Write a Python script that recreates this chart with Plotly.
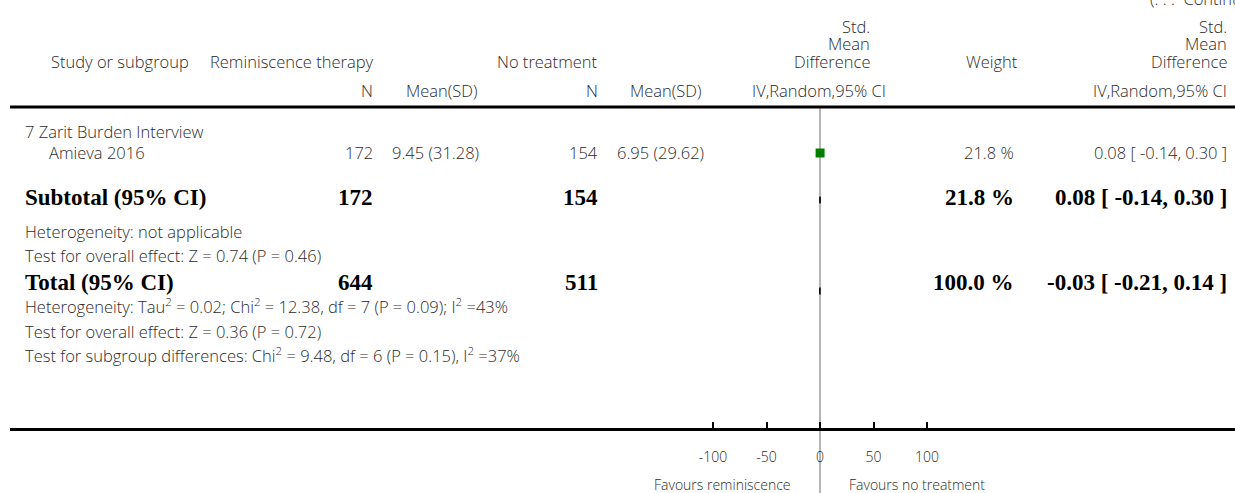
import plotly.graph_objects as go

W, H = 1235, 493

# ---------------- data ----------------
subgroup_label = "7 Zarit Burden Interview"
studies = ["Amieva 2016"]
rt_n = [172]
rt_mean = [9.45]
rt_sd = [31.28]
nt_n = [154]
nt_mean = [6.95]
nt_sd = [29.62]
smd = [0.08]
smd_lo = [-0.14]
smd_hi = [0.30]
weights = [21.8]

sub_rt_n, sub_nt_n = 172, 154
sub_weight = 21.8
sub_smd, sub_lo, sub_hi = 0.08, -0.14, 0.30

tot_rt_n, tot_nt_n = 644, 511
tot_weight = 100.0
tot_smd, tot_lo, tot_hi = -0.03, -0.21, 0.14

tick_vals = [-100, -50, 0, 50, 100]
tick_text = ["-100", "-50", "0", "50", "100"]

# ---------------- styles ----------------
SANS = "Open Sans"
SERIF = "Liberation Serif"
TXT = "#2b2b2b"
fs = 16.5
fsb = 23

def px(x):
    return x / W

def py(y):
    return 1 - y / H

annotations = []

def ann(x, y, text, anchor="left", size=fs, family=SANS, color=TXT, weight=300):
    annotations.append(dict(
        x=px(x), y=py(y), xref="paper", yref="paper", text=text,
        showarrow=False, xanchor=anchor, yanchor="middle",
        font=dict(family=family, size=size, color=color, weight=weight),
    ))

def bann(x, y, text, anchor="left"):
    ann(x, y, text, anchor, size=fsb, family=SERIF, color="#000", weight="bold")

# column positions (pixels)
X_LEFT = 23
X_INDENT = 47
X_N1 = 375
X_M1_HEAD = 404
X_M1 = 390
X_N2 = 600
X_M2_HEAD = 628
X_M2 = 615
X_SMD_HEAD = 872
X_CI_HEAD = 888
X_W = 1016
X_RIGHT = 1229

# header
ann(1148, -1, "(. . .  Continued)", "left")
for yy, t in [(26, "Std."), (44, "Mean"), (62, "Difference")]:
    ann(X_SMD_HEAD, yy, t, "right")
    ann(X_RIGHT, yy, t, "right")
ann(49, 62, "Study or subgroup")
ann(X_N1, 62, "Reminiscence therapy", "right")
ann(X_N2, 62, "No treatment", "right")
ann(992, 62, "Weight", "center")
ann(X_N1, 91, "N", "right")
ann(X_M1_HEAD, 91, "Mean(SD)")
ann(X_N2, 91, "N", "right")
ann(X_M2_HEAD, 91, "Mean(SD)")
ann(X_CI_HEAD, 91, "IV,Random,95% CI", "right")
ann(X_RIGHT, 91, "IV,Random,95% CI", "right")

# subgroup + studies
ann(X_LEFT, 131, subgroup_label)
row_y = [153]
for i, s in enumerate(studies):
    y = row_y[i]
    ann(X_INDENT, y, s)
    ann(X_N1, y, f"{rt_n[i]}", "right")
    ann(X_M1, y, f"{rt_mean[i]:.2f} ({rt_sd[i]:.2f})")
    ann(X_N2, y, f"{nt_n[i]}", "right")
    ann(X_M2, y, f"{nt_mean[i]:.2f} ({nt_sd[i]:.2f})")
    ann(X_W, y, f"{weights[i]:.1f} %", "right")
    ann(X_RIGHT, y, f"{smd[i]:.2f} [ {smd_lo[i]:.2f}, {smd_hi[i]:.2f} ]", "right")

# subtotal
sub_y = 198
bann(X_LEFT, sub_y, "Subtotal (95% CI)")
bann(X_N1, sub_y, f"{sub_rt_n}", "right")
bann(X_N2, sub_y, f"{sub_nt_n}", "right")
bann(X_W, sub_y, f"{sub_weight:.1f} %", "right")
bann(X_RIGHT, sub_y, f"{sub_smd:.2f} [ {sub_lo:.2f}, {sub_hi:.2f} ]", "right")
ann(X_LEFT, 231, "Heterogeneity: not applicable")
ann(X_LEFT, 255, "Test for overall effect: Z = 0.74 (P = 0.46)")

# total
tot_y = 282
bann(X_LEFT, tot_y, "Total (95% CI)")
bann(X_N1, tot_y, f"{tot_rt_n}", "right")
bann(X_N2, tot_y, f"{tot_nt_n}", "right")
bann(X_W, tot_y, f"{tot_weight:.1f} %", "right")
bann(X_RIGHT, tot_y, f"{tot_smd:.2f} [ {tot_lo:.2f}, {tot_hi:.2f} ]", "right")
ann(X_LEFT, 306, "Heterogeneity: Tau<sup>2</sup> = 0.02; Chi<sup>2</sup> = 12.38, df = 7 (P = 0.09); I<sup>2</sup> =43%")
ann(X_LEFT, 331, "Test for overall effect: Z = 0.36 (P = 0.72)")
ann(X_LEFT, 355, "Test for subgroup differences: Chi<sup>2</sup> = 9.48, df = 6 (P = 0.15), I<sup>2</sup> =37%")

# favours labels
ann(793, 484, "Favours reminiscence", "right", size=14)
ann(847, 484, "Favours no treatment", "left", size=14)

# ---------------- axes geometry ----------------
x0_px, x_zero_px, px_per_unit = 10, 820, 1.07
xr = [(x0_px - x_zero_px) / px_per_unit, (W - x_zero_px) / px_per_unit]
top_px, bot_px = 107, 428

fig = go.Figure()

# study squares and CI lines
fig.add_trace(go.Scatter(x=smd, y=row_y, mode="markers",
                         marker=dict(symbol="square", size=9, color="#008000",
                                     line=dict(width=0)),
                         hoverinfo="skip", showlegend=False))
for i in range(len(studies)):
    fig.add_trace(go.Scatter(x=[smd_lo[i], smd_hi[i]], y=[row_y[i], row_y[i]],
                             mode="lines", line=dict(color="#000", width=1),
                             hoverinfo="skip", showlegend=False))

# pooled diamonds
def diamond(est, lo, hi, yc, h=3.5):
    fig.add_trace(go.Scatter(x=[lo, est, hi, est, lo], y=[yc, yc - h, yc, yc + h, yc],
                             mode="lines", fill="toself", fillcolor="#000",
                             line=dict(color="#000", width=1.5),
                             hoverinfo="skip", showlegend=False))

diamond(sub_smd, sub_lo, sub_hi, 200)
diamond(tot_smd, tot_lo, tot_hi, 291)

shapes = [
    dict(type="line", xref="x", yref="paper", x0=0, x1=0, y0=0, y1=py(top_px),
         line=dict(color="#b5b5b5", width=2), layer="below"),
    dict(type="line", xref="paper", yref="paper", x0=px(x0_px), x1=1,
         y0=py(top_px), y1=py(top_px), line=dict(color="#000", width=3)),
]

fig.update_layout(
    width=W, height=H,
    margin=dict(l=0, r=0, t=0, b=0),
    paper_bgcolor="white", plot_bgcolor="rgba(0,0,0,0)",
    showlegend=False,
    annotations=annotations,
    shapes=shapes,
    xaxis=dict(domain=[px(x0_px), 1], range=xr, showgrid=False, zeroline=False,
               showline=True, linecolor="#000", linewidth=3,
               ticks="inside", ticklen=6, tickwidth=2, tickcolor="#000",
               tickvals=tick_vals, ticktext=tick_text,
               tickfont=dict(family=SANS, size=14, color=TXT, weight=300),
               ticklabelstandoff=14, fixedrange=True),
    yaxis=dict(domain=[1 - bot_px / H, 1 - top_px / H], range=[bot_px, top_px],
               visible=False, fixedrange=True),
)

fig.write_html("out.html", config={"displayModeBar": False},
               post_script="document.body.style.margin='0';document.body.style.overflow='hidden';")
